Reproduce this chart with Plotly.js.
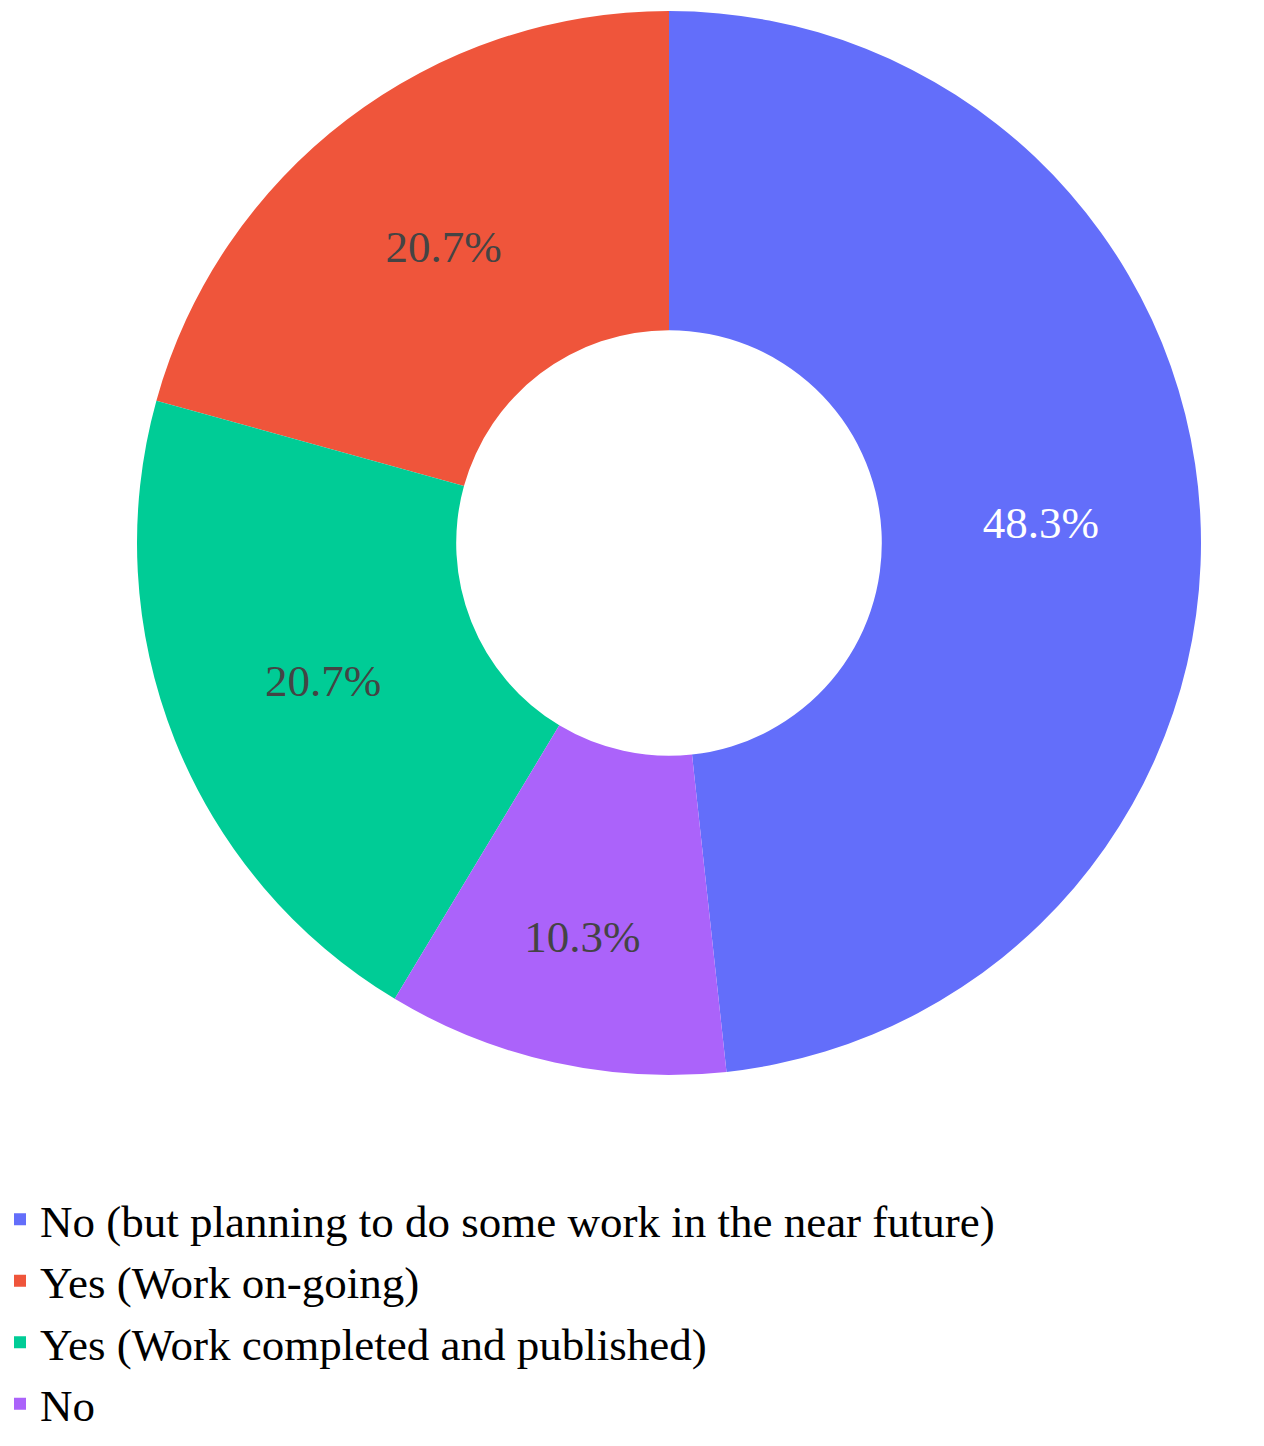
<!DOCTYPE html>
<html>
<head>
<meta charset="utf-8">
<script src="https://cdn.plot.ly/plotly-3.0.1.min.js"></script>
<style>html,body{margin:0;padding:0;background:#fff;}#chart{width:1264px;height:1446px;}</style>
</head>
<body>
<div id="chart"></div>
<script>
var labels = [
  "No (but planning to do some work in the near future)",
  "Yes (Work on-going)",
  "Yes (Work completed and published)",
  "No"
];
var values = [14, 6, 6, 3];
var colors = ["#636efa", "#EF553B", "#00cc96", "#ab63fa"];

var data = [{
  type: "pie",
  labels: labels,
  values: values,
  hole: 0.4,
  direction: "counterclockwise",
  sort: false,
  textinfo: "percent",
  textposition: "inside",
  marker: {colors: colors, line: {width: 0}},
  domain: {x: [137/1264, 1201/1264], y: [(1446-1075)/1446, (1446-11)/1446]}
}];

var layout = {
  width: 1264,
  height: 1446,
  margin: {l: 0, r: 0, t: 0, b: 0},
  paper_bgcolor: "#fff",
  font: {family: "Liberation Serif", size: 45, color: "#444"},
  showlegend: true,
  legend: {
    x: 0, xanchor: "left",
    y: 0.0045, yanchor: "bottom",
    orientation: "v",
    font: {size: 45, color: "#000"}
  }
};

Plotly.newPlot("chart", data, layout, {displayModeBar: false, staticPlot: true});
</script>
</body>
</html>
